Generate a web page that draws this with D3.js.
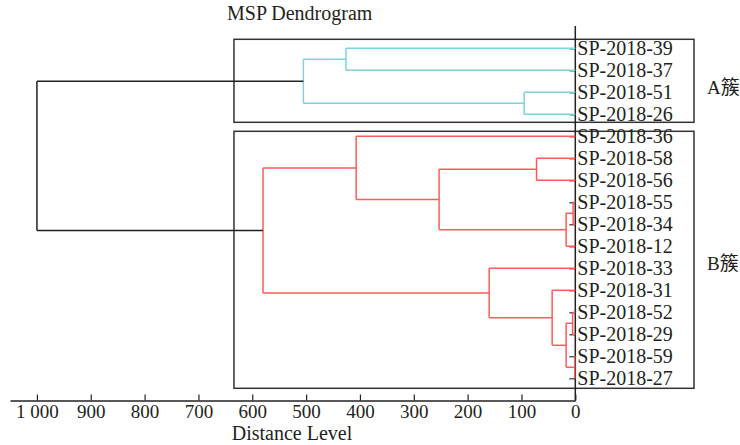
<!DOCTYPE html>
<html>
<head>
<meta charset="utf-8">
<script src="https://cdn.jsdelivr.net/npm/d3@7"></script>
<style>
  body { margin: 0; background: #fff; }
  svg text { font-family: "Liberation Serif", "Times New Roman", "Noto Sans CJK SC", serif; fill: #231f20; }
</style>
</head>
<body>
<svg id="chart"></svg>
<script>
// leaf order, top to bottom
const leaves = [
  'SP-2018-39', 'SP-2018-37', 'SP-2018-51', 'SP-2018-26',
  'SP-2018-36', 'SP-2018-58', 'SP-2018-56', 'SP-2018-55',
  'SP-2018-34', 'SP-2018-12', 'SP-2018-33', 'SP-2018-31',
  'SP-2018-52', 'SP-2018-29', 'SP-2018-59', 'SP-2018-27'
];

// [left, right, distance]; strings are leaves, numbers point at earlier merges
const merges = [
  ['SP-2018-39', 'SP-2018-37', 426], // 0
  ['SP-2018-51', 'SP-2018-26', 95],  // 1
  [0, 1, 505],                       // 2  A cluster
  ['SP-2018-58', 'SP-2018-56', 72],  // 3
  ['SP-2018-55', 'SP-2018-34', 4],   // 4
  [4, 'SP-2018-12', 17],             // 5
  [3, 5, 253],                       // 6
  ['SP-2018-36', 6, 407],            // 7
  ['SP-2018-52', 'SP-2018-29', 5],   // 8
  ['SP-2018-59', 'SP-2018-27', 1],   // 9
  [8, 9, 17],                        // 10
  ['SP-2018-31', 10, 43],            // 11
  ['SP-2018-33', 11, 160],           // 12
  [7, 12, 580],                      // 13 B cluster
  [2, 13, 1000]                      // 14 root
];

const clusterNames = ['A簇', 'B簇'];
const clusterMerges = [2, 13];
const clusterColors = ['#7dd3dc', '#ff5a5a'];

const xTicks = [1000, 900, 800, 700, 600, 500, 400, 300, 200, 100, 0];

const width = 740;
const height = 445;
const axisY = 400.5;
const serif = '"Liberation Serif", "Times New Roman", serif';

const svg = d3.select('#chart')
  .attr('width', width)
  .attr('height', height);

const x = d3.scaleLinear()
  .domain([1050, 0])
  .range([10, 575.3]);

const y = d3.scalePoint()
  .domain(leaves)
  .range([48.3, 378.3]);

const fmt = d3.formatLocale({decimal: '.', thousands: ' ', grouping: [3], currency: ['', '']}).format(',');

// build nodes from the merge table
const nodes = merges.map(() => ({}));
function resolve(ref) {
  if (typeof ref === 'string') return {name: ref, h: 0, y: y(ref)};
  return nodes[ref];
}
merges.forEach((m, i) => {
  const n = nodes[i];
  n.children = [resolve(m[0]), resolve(m[1])];
  n.h = m[2];
  n.y = (n.children[0].y + n.children[1].y) / 2;
});

// colour every node under a cluster merge
function paint(n, c) {
  n.color = c;
  (n.children || []).forEach(ch => paint(ch, c));
}
const root = nodes[nodes.length - 1];
paint(root, '#222');
clusterMerges.forEach((idx, i) => paint(nodes[idx], clusterColors[i]));

// title
svg.append('text')
  .attr('x', 227)
  .attr('y', 20)
  .style('font-size', '20px')
  .text('MSP Dendrogram');

// cluster boxes
const boxes = [
  {top: y(leaves[0]) - 9, bottom: y(leaves[3]) + 8, label: clusterNames[0], ly: 87},
  {top: y(leaves[4]) - 5, bottom: y(leaves[15]) + 10, label: clusterNames[1], ly: 263}
];
svg.selectAll('.box')
  .data(boxes)
  .enter()
  .append('rect')
  .attr('class', 'box')
  .attr('x', x(634))
  .attr('y', d => d.top)
  .attr('width', 694 - x(634))
  .attr('height', d => d.bottom - d.top)
  .attr('fill', 'none')
  .attr('stroke', '#333')
  .attr('stroke-width', 1.5);

svg.selectAll('.clabel')
  .data(boxes)
  .enter()
  .append('text')
  .attr('class', 'clabel')
  .attr('x', 707)
  .attr('y', d => d.ly)
  .attr('dy', '0.35em')
  .style('font-size', '19px')
  .text(d => d.label);

// leaf axis: ticks pointing left, names on the right
const yAxis = svg.append('g')
  .attr('transform', `translate(${x(0)}, 0)`)
  .call(d3.axisRight(y).tickSizeInner(-6).tickSizeOuter(0).tickPadding(2));
yAxis.select('.domain').remove();
yAxis.selectAll('line').attr('stroke', '#333').attr('stroke-width', 1.2);
yAxis.selectAll('text')
  .attr('fill', '#231f20')
  .style('font-size', '20px')
  .style('font-family', serif);

svg.append('line')
  .attr('x1', x(0)).attr('x2', x(0))
  .attr('y1', 26).attr('y2', axisY)
  .attr('stroke', '#222')
  .attr('stroke-width', 1.5);

// distance axis
const xAxis = svg.append('g')
  .attr('transform', `translate(0, ${axisY})`)
  .call(d3.axisBottom(x).tickValues(xTicks).tickFormat(fmt).tickSizeInner(-6).tickSizeOuter(0).tickPadding(4));
xAxis.select('.domain').attr('stroke', '#222').attr('stroke-width', 1.5);
xAxis.selectAll('line').attr('stroke', '#222').attr('stroke-width', 1.2);
xAxis.selectAll('text')
  .attr('fill', '#231f20')
  .style('font-size', '19px')
  .style('font-family', serif);

svg.append('text')
  .attr('x', 292)
  .attr('y', 440)
  .attr('text-anchor', 'middle')
  .style('font-size', '20px')
  .text('Distance Level');

// dendrogram links
const segs = [];
nodes.forEach(n => {
  const [a, b] = n.children;
  segs.push({d: `M${x(n.h)},${a.y}V${b.y}`, color: n.color});
  n.children.forEach(ch => {
    segs.push({d: `M${x(n.h)},${ch.y}H${x(ch.h)}`, color: n.color});
  });
});

svg.append('g')
  .selectAll('path')
  .data(segs)
  .enter()
  .append('path')
  .attr('d', d => d.d)
  .attr('fill', 'none')
  .attr('stroke', d => d.color)
  .attr('stroke-width', 1.5);
</script>
</body>
</html>
